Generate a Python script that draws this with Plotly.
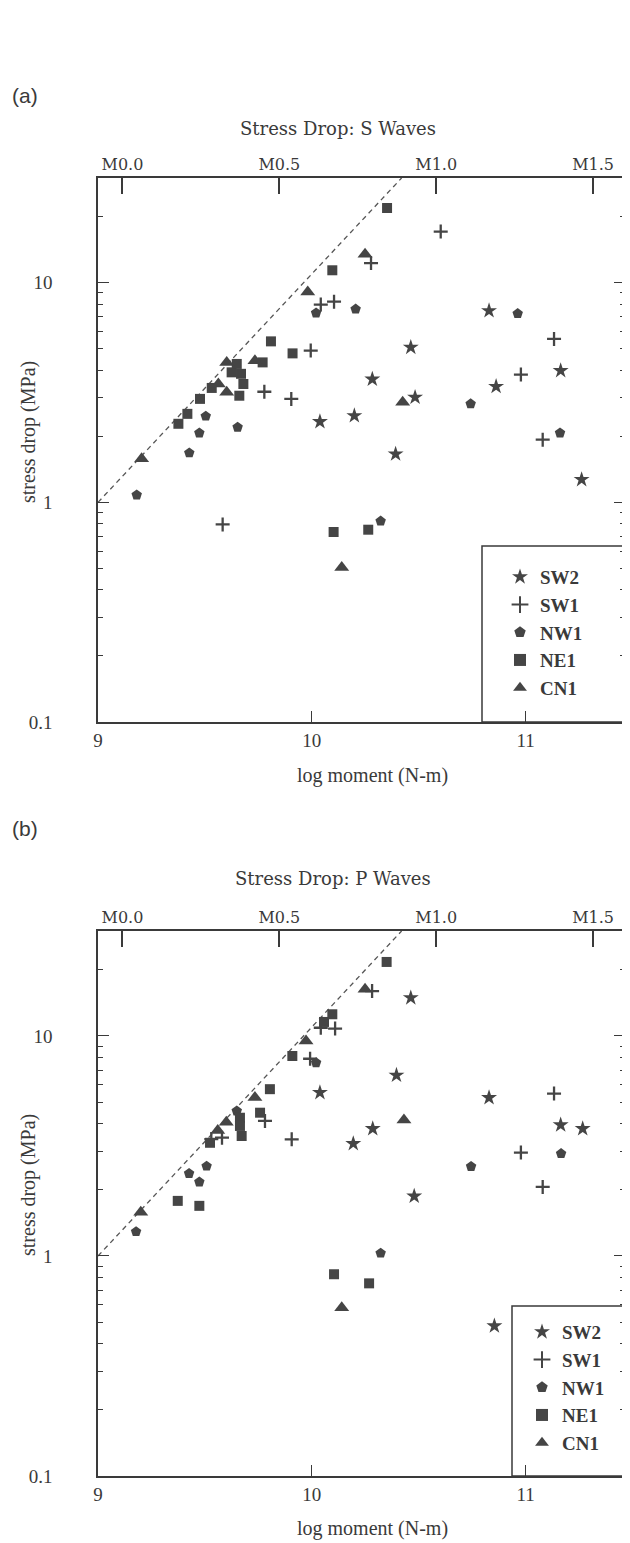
import math
import plotly.graph_objects as go

# ---------------- data ----------------
stations = ["SW2", "SW1", "NW1", "NE1", "CN1"]

# Panel (a): S waves  -- log moment (N-m) and stress drop (MPa)
s_sw2_x = [10.283, 10.038, 10.199, 10.392, 10.463, 10.483, 10.829, 10.862, 11.164, 11.262]
s_sw2_y = [3.64, 2.33, 2.48, 1.66, 5.08, 3.01, 7.46, 3.37, 3.98, 1.27]
s_sw1_x = [9.583, 9.778, 9.904, 9.995, 10.042, 10.104, 10.277, 10.603, 11.133, 10.978, 11.080]
s_sw1_y = [0.794, 3.19, 2.96, 4.91, 7.96, 8.20, 12.3, 17.1, 5.55, 3.82, 1.93]
s_nw1_x = [9.181, 9.427, 9.474, 9.504, 9.653, 10.020, 10.205, 10.322, 10.743, 10.963, 11.161]
s_nw1_y = [1.08, 1.68, 2.07, 2.47, 2.20, 7.28, 7.59, 0.822, 2.81, 7.24, 2.07]
s_ne1_x = [9.376, 9.418, 9.477, 9.532, 9.625, 9.649, 9.661, 9.669, 9.680, 9.770, 9.809, 9.910,
           10.096, 10.352, 10.102, 10.264]
s_ne1_y = [2.28, 2.53, 2.96, 3.32, 3.91, 4.27, 3.06, 3.85, 3.46, 4.34, 5.41, 4.77,
           11.4, 21.9, 0.733, 0.751]
s_cn1_x = [9.204, 9.563, 9.602, 9.602, 9.734, 9.981, 10.249, 10.425, 10.140]
s_cn1_y = [1.58, 3.46, 3.17, 4.34, 4.42, 9.09, 13.5, 2.86, 0.505]

# Panel (b): P waves
p_sw2_x = [10.038, 10.194, 10.285, 10.396, 10.463, 10.479, 10.829, 10.854, 11.164, 11.267]
p_sw2_y = [5.53, 3.24, 3.79, 6.63, 14.9, 1.87, 5.24, 0.481, 3.94, 3.79]
p_sw1_x = [9.53, 9.58, 9.781, 9.906, 9.992, 10.042, 10.109, 10.282, 10.978, 11.080, 11.133]
p_sw1_y = [3.40, 3.45, 4.11, 3.39, 7.88, 10.9, 10.8, 16.0, 2.95, 2.06, 5.47]
p_nw1_x = [9.178, 9.426, 9.474, 9.508, 9.649, 10.020, 10.322, 10.745, 11.166]
p_nw1_y = [1.29, 2.37, 2.17, 2.56, 4.56, 7.56, 1.03, 2.55, 2.92]
p_ne1_x = [9.373, 9.474, 9.524, 9.664, 9.664, 9.672, 9.758, 9.804, 9.909, 10.057, 10.096,
           10.350, 10.104, 10.268]
p_ne1_y = [1.78, 1.69, 3.27, 4.25, 3.90, 3.51, 4.48, 5.73, 8.11, 11.58, 12.55,
           21.7, 0.826, 0.751]
p_cn1_x = [9.200, 9.56, 9.60, 9.734, 9.973, 10.249, 10.431, 10.140]
p_cn1_y = [1.58, 3.72, 4.05, 5.25, 9.49, 16.3, 4.15, 0.582]

# dashed upper-limit line
ref_x = [9.0, 10.42]
ref_y = [1.0, 30.0]

# tick labels
x_ticks = [9, 10, 11]
y_ticks = [0.1, 1, 10]
y_tick_text = ["0.1", "1", "10"]
mag_ticks = [0.0, 0.5, 1.0, 1.5]
mag_tick_text = ["M0.0", "M0.5", "M1.0", "M1.5"]

titles = ["Stress Drop: S Waves", "Stress Drop: P Waves"]
panel_tags = ["(a)", "(b)"]

# ---------------- styling ----------------
OFF = 8                      # page body margin of the browser
W, H = 630 - OFF, 1543 - OFF
L_IMG, R_IMG = 98, 625       # plot area edges in window pixels
INK = "#3a3a3a"
MARK = "#454545"
SERIF = "Liberation Serif"
BOOK = "DejaVu Serif"


def fx(p):
    return (p - L_IMG) / (R_IMG - L_IMG)


def fy(p):
    return 1 - (p - OFF) / H


marker_style = {
    "SW2": dict(symbol="star", size=12, color=MARK, line=dict(width=0)),
    "SW1": dict(symbol="cross-thin", size=10, color=MARK, line=dict(width=2.3, color=MARK)),
    "NW1": dict(symbol="pentagon", size=11, color=MARK, line=dict(width=0)),
    "NE1": dict(symbol="square", size=10, color=MARK, line=dict(width=0)),
    "CN1": dict(symbol="triangle-up", size=13, color=MARK, line=dict(width=0)),
}

panels = [
    dict(xa="x", ya="y", xtop="x3", legend="legend",
         data={"SW2": (s_sw2_x, s_sw2_y), "SW1": (s_sw1_x, s_sw1_y), "NW1": (s_nw1_x, s_nw1_y),
               "NE1": (s_ne1_x, s_ne1_y), "CN1": (s_cn1_x, s_cn1_y)}),
    dict(xa="x2", ya="y2", xtop="x4", legend="legend2",
         data={"SW2": (p_sw2_x, p_sw2_y), "SW1": (p_sw1_x, p_sw1_y), "NW1": (p_nw1_x, p_nw1_y),
               "NE1": (p_ne1_x, p_ne1_y), "CN1": (p_cn1_x, p_cn1_y)}),
]

fig = go.Figure()
for pan in panels:
    # empty helper trace so the magnitude (top) axis is drawn
    fig.add_trace(go.Scatter(x=mag_ticks, y=[None] * len(mag_ticks), mode="markers",
                             xaxis=pan["xtop"], yaxis=pan["ya"], showlegend=False,
                             hoverinfo="skip"))
    fig.add_trace(go.Scatter(x=ref_x, y=ref_y, mode="lines", xaxis=pan["xa"], yaxis=pan["ya"],
                             line=dict(color="#555555", width=1.3, dash="5px,4px"),
                             showlegend=False, hoverinfo="skip"))
    for st in stations:
        xs, ys = pan["data"][st]
        fig.add_trace(go.Scatter(x=xs, y=ys, mode="markers", name=st, xaxis=pan["xa"],
                                 yaxis=pan["ya"], marker=marker_style[st], legend=pan["legend"]))

x_range = [9, 9 + (R_IMG - L_IMG) / 213.8]
mag_range = [-0.0778, 1.6017]
y_range = [-1, math.log10(30)]
minor_vals = [d * 10 ** e for e in (-1, 0, 1) for d in range(2, 10) if d * 10 ** e <= 30]

xcommon = dict(range=x_range, autorange=False, tickvals=x_ticks, ticks="inside", ticklen=11,
               tickwidth=1.3, tickcolor=INK, showline=True, linecolor=INK, linewidth=1.5,
               mirror=True, showgrid=False, zeroline=False,
               tickfont=dict(family=SERIF, size=19, color=INK))
topcommon = dict(side="top", range=mag_range, autorange=False, tickvals=mag_ticks,
                 ticktext=mag_tick_text, ticks="inside", ticklen=16, tickwidth=1.5,
                 tickcolor=INK, showline=True, linecolor=INK, linewidth=2.2, showgrid=False,
                 zeroline=False, tickfont=dict(family=BOOK, size=16, color=INK))
ycommon = dict(type="log", range=y_range, autorange=False, tickvals=y_ticks,
               ticktext=y_tick_text, ticks="inside", ticklen=11, tickwidth=1.3, tickcolor=INK,
               minor=dict(tickvals=minor_vals, ticks="inside", ticklen=5, tickwidth=1,
                          tickcolor=INK),
               showline=True, linecolor=INK, linewidth=1.5, mirror="ticks", showgrid=False,
               zeroline=False, ticklabelstandoff=40,
               tickfont=dict(family=SERIF, size=19, color=INK))

dom_a = [fy(722), fy(178)]
dom_b = [fy(1476), fy(931)]

fig.update_layout(
    width=W, height=H,
    margin=dict(l=L_IMG - OFF, r=W - (R_IMG - OFF), t=0, b=0, autoexpand=False),
    paper_bgcolor="white", plot_bgcolor="white",
    xaxis=dict(xcommon, anchor="y"),
    xaxis2=dict(xcommon, anchor="y2"),
    xaxis3=dict(topcommon, overlaying="x", anchor="y"),
    xaxis4=dict(topcommon, overlaying="x2", anchor="y2"),
    yaxis=dict(ycommon, domain=dom_a, anchor="x"),
    yaxis2=dict(ycommon, domain=dom_b, anchor="x2"),
    legend=dict(x=fx(500), y=fy(558), xanchor="left", yanchor="top", bgcolor="rgba(0,0,0,0)",
                borderwidth=0, font=dict(family=SERIF, size=19, color=INK, weight="bold"),
                itemsizing="constant", tracegroupgap=0),
    legend2=dict(x=fx(522), y=fy(1313), xanchor="left", yanchor="top",
                 bgcolor="rgba(0,0,0,0)", borderwidth=0,
                 font=dict(family=SERIF, size=19, color=INK, weight="bold"),
                 itemsizing="constant", tracegroupgap=0),
    showlegend=True,
)

# legend frames
fig.add_shape(type="rect", xref="paper", yref="paper", x0=fx(482), x1=fx(640),
              y0=fy(722), y1=fy(546), line=dict(color=INK, width=1.5), fillcolor="rgba(0,0,0,0)")
fig.add_shape(type="rect", xref="paper", yref="paper", x0=fx(512), x1=fx(640),
              y0=fy(1476), y1=fy(1306), line=dict(color=INK, width=1.5),
              fillcolor="rgba(0,0,0,0)")

ann = []
for tag, ty in zip(panel_tags, [95, 829]):
    ann.append(dict(text=tag, x=fx(10), y=fy(ty), xref="paper", yref="paper", xanchor="left",
                    yanchor="middle", showarrow=False,
                    font=dict(family="Liberation Sans", size=21, color=INK)))
for t, tx, ty in zip(titles, [338, 333], [128, 878]):
    ann.append(dict(text=t, x=fx(tx), y=fy(ty), xref="paper", yref="paper", xanchor="center",
                    yanchor="middle", showarrow=False,
                    font=dict(family=BOOK, size=18, color=INK)))
for ty in [775, 1528]:
    ann.append(dict(text="log moment (N-m)", x=fx(372), y=fy(ty), xref="paper", yref="paper",
                    xanchor="center", yanchor="middle", showarrow=False,
                    font=dict(family=SERIF, size=20, color=INK)))
for ty in [432, 1185]:
    ann.append(dict(text="stress drop (MPa)", x=fx(28), y=fy(ty), xref="paper", yref="paper",
                    xanchor="center", yanchor="middle", showarrow=False, textangle=-90,
                    font=dict(family=SERIF, size=20, color=INK)))
fig.update_layout(annotations=ann)

fig.write_html("out.html")
